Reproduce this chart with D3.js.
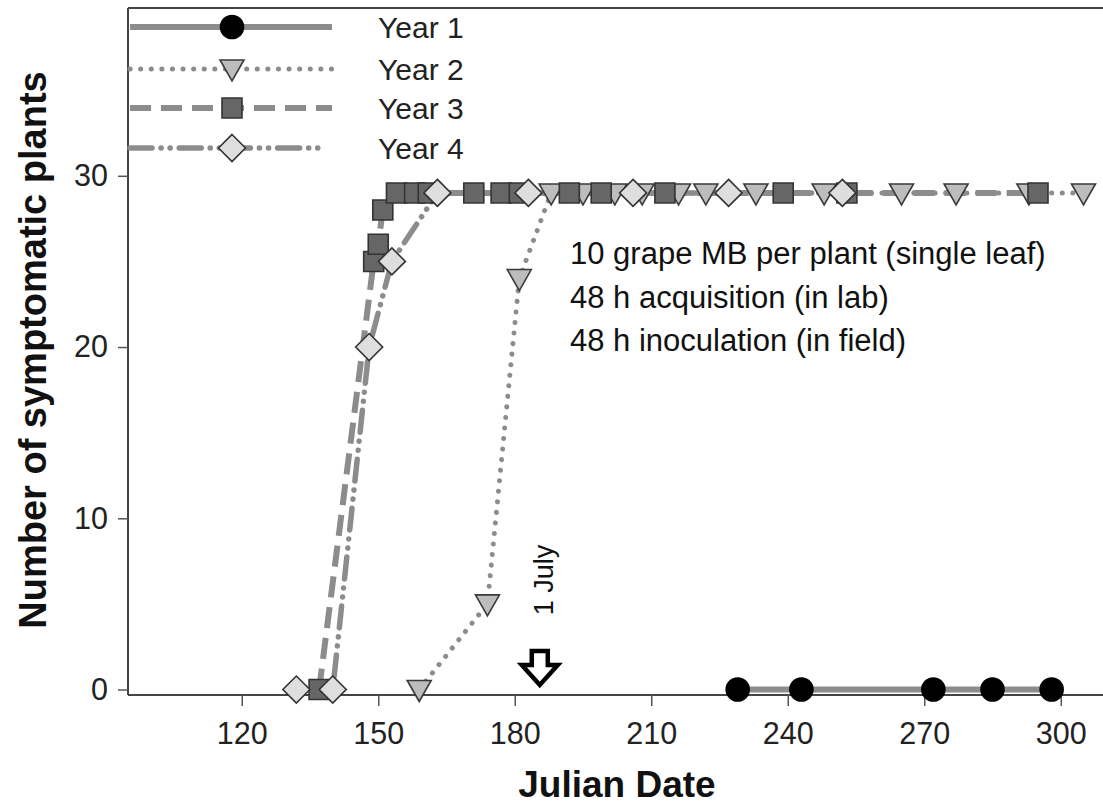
<!DOCTYPE html>
<html>
<head>
<meta charset="utf-8">
<script src="https://cdn.jsdelivr.net/npm/d3@7"></script>
<style>
  html, body { margin: 0; padding: 0; background: #fff; }
  svg { display: block; font-family: "Liberation Sans", Arial, sans-serif; }
</style>
</head>
<body>
<svg id="chart" width="1103" height="804"></svg>
<script>
// Symptomatic plants per Julian date, four seasons
const year1Days = [229, 243, 272, 285, 298];
const year1Vals = [0, 0, 0, 0, 0];

const year2Days = [159, 174, 181, 188, 195, 202, 208, 216, 222, 233, 248, 265, 277, 293, 305];
const year2Vals = [0, 5, 24, 29, 29, 29, 29, 29, 29, 29, 29, 29, 29, 29, 29];

const year3Days = [137, 149, 150, 151, 154, 158, 161, 171, 177, 181, 192, 199, 213, 239, 253, 295];
const year3Vals = [0, 25, 26, 28, 29, 29, 29, 29, 29, 29, 29, 29, 29, 29, 29, 29];

const year4Days = [132, 140, 148, 153, 163, 183, 206, 227, 252];
const year4Vals = [0, 0, 20, 25, 29, 29, 29, 29, 29];

const xTicks = [120, 150, 180, 210, 240, 270, 300];
const yTicks = [0, 10, 20, 30];
const seriesNames = ["Year 1", "Year 2", "Year 3", "Year 4"];
const noteLines = [
  "10 grape MB per plant (single leaf)",
  "48 h acquisition (in lab)",
  "48 h inoculation (in field)"
];
const markerDay = 185.5;   // 1 July marker
const markerLabel = "1 July";

const svg = d3.select("#chart");
const plotLeft = 128, plotTop = 8, plotBottom = 695;

const x = d3.scaleLinear().domain([95, 315]).range([plotLeft, plotLeft + 220 * 4.55]);
const y = d3.scaleLinear().domain([-0.32, 39.8]).range([plotBottom, plotTop]);

const lineColor = "#8c8c8c";
const styles = [
  { dash: null,               cap: "butt",  shape: "circle",   fill: "#000",    stroke: "#000" },
  { dash: "0.1 10.5",         cap: "round", shape: "triangle", fill: "#bdbdbd", stroke: "#3a3a3a" },
  { dash: "21 10",            cap: "butt",  shape: "square",   fill: "#666",    stroke: "#333" },
  { dash: "22 9 0.1 9 0.1 9", cap: "round", shape: "diamond",  fill: "#dedede", stroke: "#333" }
];
const widths = [6, 5, 6, 5.5];

const series = [
  { days: year1Days, vals: year1Vals },
  { days: year2Days, vals: year2Vals },
  { days: year3Days, vals: year3Vals },
  { days: year4Days, vals: year4Vals }
].map((s, i) => ({ ...s, style: styles[i], width: widths[i], name: seriesNames[i],
  pts: s.days.map((d, j) => [d, s.vals[j]]) }));

// marker path generators (centered at origin)
function markerPath(shape) {
  switch (shape) {
    case "circle":   return d3.symbol(d3.symbolCircle, Math.PI * 11.5 * 11.5)();
    case "triangle": return "M-12,-9 L12,-9 L0,12 Z";
    case "square":   return "M-10,-10 L10,-10 L10,10 L-10,10 Z";
    case "diamond":  return "M0,-13.5 L13.5,0 L0,13.5 L-13.5,0 Z";
  }
}

// frame: top border
svg.append("line").attr("x1", plotLeft).attr("x2", 1103).attr("y1", plotTop).attr("y2", plotTop)
  .attr("stroke", "#444").attr("stroke-width", 2);

// axes
const xAxis = svg.append("g").attr("transform", `translate(0,${plotBottom})`)
  .call(d3.axisBottom(x).tickValues(xTicks).tickSize(11).tickPadding(16).tickFormat(d3.format("d")));
const yAxis = svg.append("g").attr("transform", `translate(${plotLeft},0)`)
  .call(d3.axisLeft(y).tickValues(yTicks).tickSize(10).tickPadding(10).tickFormat(d3.format("d")));
[xAxis, yAxis].forEach(g => {
  g.select(".domain").attr("stroke", "#444").attr("stroke-width", 2);
  g.selectAll(".tick line").attr("stroke", "#555").attr("stroke-width", 1.5);
  g.selectAll(".tick text").attr("fill", "#222").attr("font-size", 30.5)
    .attr("font-family", "'Liberation Sans', Arial, sans-serif");
});
xAxis.select(".domain").attr("d", `M${plotLeft},0H1103`);
yAxis.select(".domain").attr("d", `M0,${plotTop}V${plotBottom}`);
xAxis.selectAll(".tick text").attr("dy", "0.71em");

// axis titles
svg.append("text").attr("x", 617).attr("y", 797).attr("text-anchor", "middle")
  .attr("font-size", 37).attr("font-weight", "bold").attr("fill", "#111").text("Julian Date");
svg.append("text").attr("transform", "translate(46,350) rotate(-90)").attr("text-anchor", "middle")
  .attr("font-size", 38).attr("font-weight", "bold").attr("fill", "#111").text("Number of symptomatic plants");

// series lines
const line = d3.line().x(d => x(d[0])).y(d => y(d[1]));
series.forEach(s => {
  svg.append("path").attr("d", line(s.pts)).attr("fill", "none")
    .attr("stroke", lineColor).attr("stroke-width", s.width)
    .attr("stroke-dasharray", s.style.dash).attr("stroke-linecap", s.style.cap);
});

// series markers
series.forEach(s => {
  svg.append("g").selectAll("path").data(s.pts).join("path")
    .attr("transform", d => `translate(${x(d[0])},${y(d[1])})`)
    .attr("d", markerPath(s.style.shape))
    .attr("fill", s.style.fill).attr("stroke", s.style.stroke).attr("stroke-width", 1.6);
});

// legend
const legendY = [27, 69, 108, 148];
const legendEnd = [332, 332, 332, 318];
series.forEach((s, i) => {
  const g = svg.append("g").attr("transform", `translate(0,${legendY[i]})`);
  g.append("line").attr("x1", 130).attr("x2", legendEnd[i]).attr("y1", 0).attr("y2", 0)
    .attr("stroke", lineColor).attr("stroke-width", s.width)
    .attr("stroke-dasharray", s.style.dash).attr("stroke-linecap", s.style.cap);
  g.append("path").attr("transform", "translate(232,0)").attr("d", markerPath(s.style.shape))
    .attr("fill", s.style.fill).attr("stroke", s.style.stroke).attr("stroke-width", 1.6);
  g.append("text").attr("x", 378).attr("y", 11).attr("font-size", 30).attr("fill", "#222").text(s.name);
});

// experiment note
svg.append("g").selectAll("text").data(noteLines).join("text")
  .attr("x", 570).attr("y", (d, i) => 264 + i * 43.5)
  .attr("font-size", 31).attr("fill", "#111").text(d => d);

// 1 July marker: rotated label and hollow down arrow
const ax = x(markerDay);
svg.append("text").attr("transform", `translate(${ax + 13},${y(6.4)}) rotate(-90)`)
  .attr("text-anchor", "middle").attr("font-size", 27).attr("fill", "#111").text(markerLabel);
svg.append("path")
  .attr("d", `M${ax - 8},651 H${ax + 8} V665 H${ax + 18} L${ax},685 L${ax - 18},665 H${ax - 8} Z`)
  .attr("fill", "#fff").attr("stroke", "#000").attr("stroke-width", 4.5).attr("stroke-linejoin", "miter");
</script>
</body>
</html>
